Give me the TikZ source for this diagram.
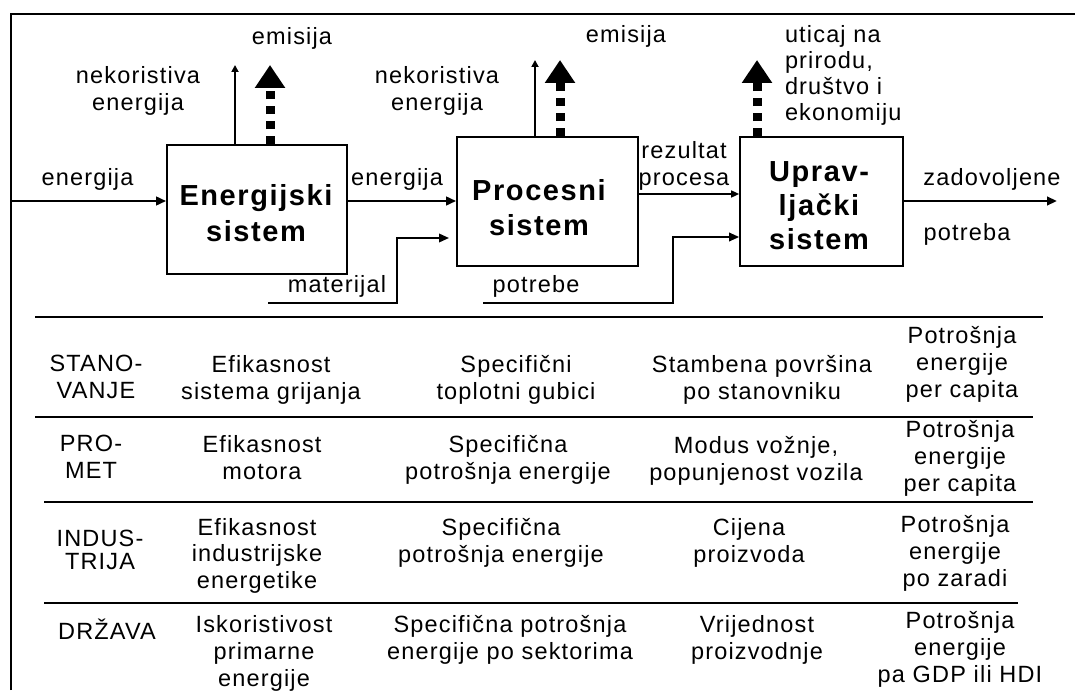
\documentclass[tikz,border=0pt]{standalone}
\usepackage{fontspec}
\usetikzlibrary{arrows.meta}
\newfontfamily\lblfont[LetterSpace=5]{Liberation Sans}
\newfontfamily\ttlfont[LetterSpace=5.5]{Liberation Sans}

\begin{document}
\begin{tikzpicture}[x=1pt,y=-1pt,
  lbl/.style={font={\lblfont\fontsize{23.5}{27}\selectfont}, inner sep=0pt, outer sep=0pt,
              align=center, anchor=north},
  ttl/.style={font={\ttlfont\bfseries\fontsize{29}{36}\selectfont}, inner sep=0pt,
              align=center, anchor=north},
  sysbox/.style={draw, line width=1.7pt, minimum height=129pt, inner sep=0pt},
  flow/.style={line width=2.4pt, -{Triangle[length=10pt,width=8.5pt]}},
  thinflow/.style={line width=1.5pt, -{Triangle[length=8pt,width=7pt]}},
  feed/.style={line width=1.9pt, -{Triangle[length=10pt,width=8.5pt]}},
  loss/.style={line width=2.3pt, -{Triangle[length=7pt,width=7pt]}},
  emis/.style={line width=9pt, dash pattern=on 8pt off 7pt,
               -{Triangle[length=23pt,width=29pt]}},
  tablerule/.style={line width=2pt},
  outerframe/.style={line width=2.6pt}
]
\useasboundingbox (0,0) rectangle (1075,690);

% outer frame (left and top edges)
\draw[outerframe] (11,690) -- (11,14) -- (1075,14);

% the three systems
\node[sysbox, minimum width=180pt] (es) at (257,209.5) {};
\node[sysbox, minimum width=181pt] (ps) at (547.5,201.5) {};
\node[sysbox, minimum width=163pt] (us) at (821.5,201.5) {};
\node[ttl] (est) at (256,184) {Energijski\\sistem};
\node[ttl, font={\ttlfont\bfseries\fontsize{29}{35}\selectfont}] (pst) at (539,179) {Procesni\\sistem};
\node[ttl, font={\ttlfont\bfseries\fontsize{29}{34}\selectfont}] (ust) at (819,161) {Uprav-\\ljački\\sistem};

% energy input and energy between systems
\coordinate (ein) at (11,201);
\draw[flow] (ein) -- (ein -| es.west);
\draw[flow] (es.east |- ein) -- (ps.west |- ein);

% losses and emissions
\coordinate (loss1) at (235,65);
\coordinate (emis1) at (270,65);
\draw[loss] (loss1 |- es.north) -- (loss1);
\draw[emis] (emis1 |- es.north) -- (emis1);
\coordinate (loss2) at (535,60);
\coordinate (emis2) at (560,60);
\draw[loss] (loss2 |- ps.north) -- (loss2);
\draw[emis] (emis2 |- ps.north) -- (emis2);
\coordinate (emis3) at (757,60);
\draw[emis] (emis3 |- us.north) -- (emis3);

% process result, satisfied need
\coordinate (rez) at (690,194);
\draw[thinflow] (ps.east |- rez) -- (us.west |- rez);
\coordinate (sat) at (1057,201);
\draw[flow] (us.east |- sat) -- (sat);

% material and needs feeds
\coordinate (mat0) at (268,303);
\coordinate (matk) at (397,238);
\draw[feed] (mat0) -| (matk) -- ++(52,0);
\coordinate (pot0) at (483,303);
\coordinate (potk) at (673,237);
\draw[feed] (pot0) -| (potk) -- (potk -| us.west);

% flow labels
\node[lbl] (emis1t) at (292,27) {emisija};
\node[lbl] (nek1t) at (138,66) {nekoristiva\\energija};
\node[lbl] (emis2t) at (626,25) {emisija};
\node[lbl] (nek2t) at (437,66) {nekoristiva\\energija};
\node[lbl] (eint) at (87.5,168) {energija};
\node[lbl] (emidt) at (397,168) {energija};
\node[lbl] (rezt) at (684,141) {rezultat\\procesa};
\node[lbl] (matt) at (337,275) {materijal};
\node[lbl] (pott) at (536,275) {potrebe};
\node[lbl, anchor=north west, align=left, font={\lblfont\fontsize{23.5}{26}\selectfont}] (utit) at (785,25)
  {uticaj na\\prirodu,\\društvo i\\ekonomiju};
\node[lbl] (zadt) at (992,168) {zadovoljene};
\node[lbl] (potrt) at (967,223) {potreba};

% table rules
\draw[tablerule] (35,317) -- (1043,317);
\draw[tablerule] (35,417) -- (1033,417);
\draw[tablerule] (44,502) -- (1033,502);
\draw[tablerule] (44,603) -- (1018,603);

% row: housing
\node[lbl] (r1a) at (96,355) {STANO-\\VANJE};
\node[lbl] (r1b) at (271,355) {Efikasnost\\sistema grijanja};
\node[lbl] (r1c) at (516,355) {Specifični\\toplotni gubici};
\node[lbl] (r1d) at (762,355) {Stambena površina\\po stanovniku};
\node[lbl] (r1e) at (962,326) {Potrošnja\\energije\\per capita};

% row: transport
\node[lbl] (r2a) at (91,435) {PRO-\\MET};
\node[lbl] (r2b) at (262,435) {Efikasnost\\motora};
\node[lbl] (r2c) at (508,435) {Specifična\\potrošnja energije};
\node[lbl] (r2d) at (756,436) {Modus vožnje,\\popunjenost vozila};
\node[lbl] (r2e) at (960,420) {Potrošnja\\energije\\per capita};

% row: industry
\node[lbl, font={\lblfont\fontsize{23.5}{23}\selectfont}] (r3a) at (100,530) {INDUS-\\TRIJA};
\node[lbl, font={\lblfont\fontsize{23.5}{26.5}\selectfont}] (r3b) at (257,518) {Efikasnost\\industrijske\\energetike};
\node[lbl] (r3c) at (501,518) {Specifična\\potrošnja energije};
\node[lbl] (r3d) at (749,518) {Cijena\\proizvoda};
\node[lbl] (r3e) at (955,515) {Potrošnja\\energije\\po zaradi};

% row: state
\node[lbl] (r4a) at (107,619) {DRŽAVA};
\node[lbl] (r4b) at (264,615) {Iskoristivost\\primarne\\energije};
\node[lbl] (r4c) at (510,615) {Specifična potrošnja\\energije po sektorima};
\node[lbl] (r4d) at (757,615) {Vrijednost\\proizvodnje};
\node[lbl] (r4e) at (960,611) {Potrošnja\\energije\\pa GDP ili HDI};
\end{tikzpicture}
\end{document}
